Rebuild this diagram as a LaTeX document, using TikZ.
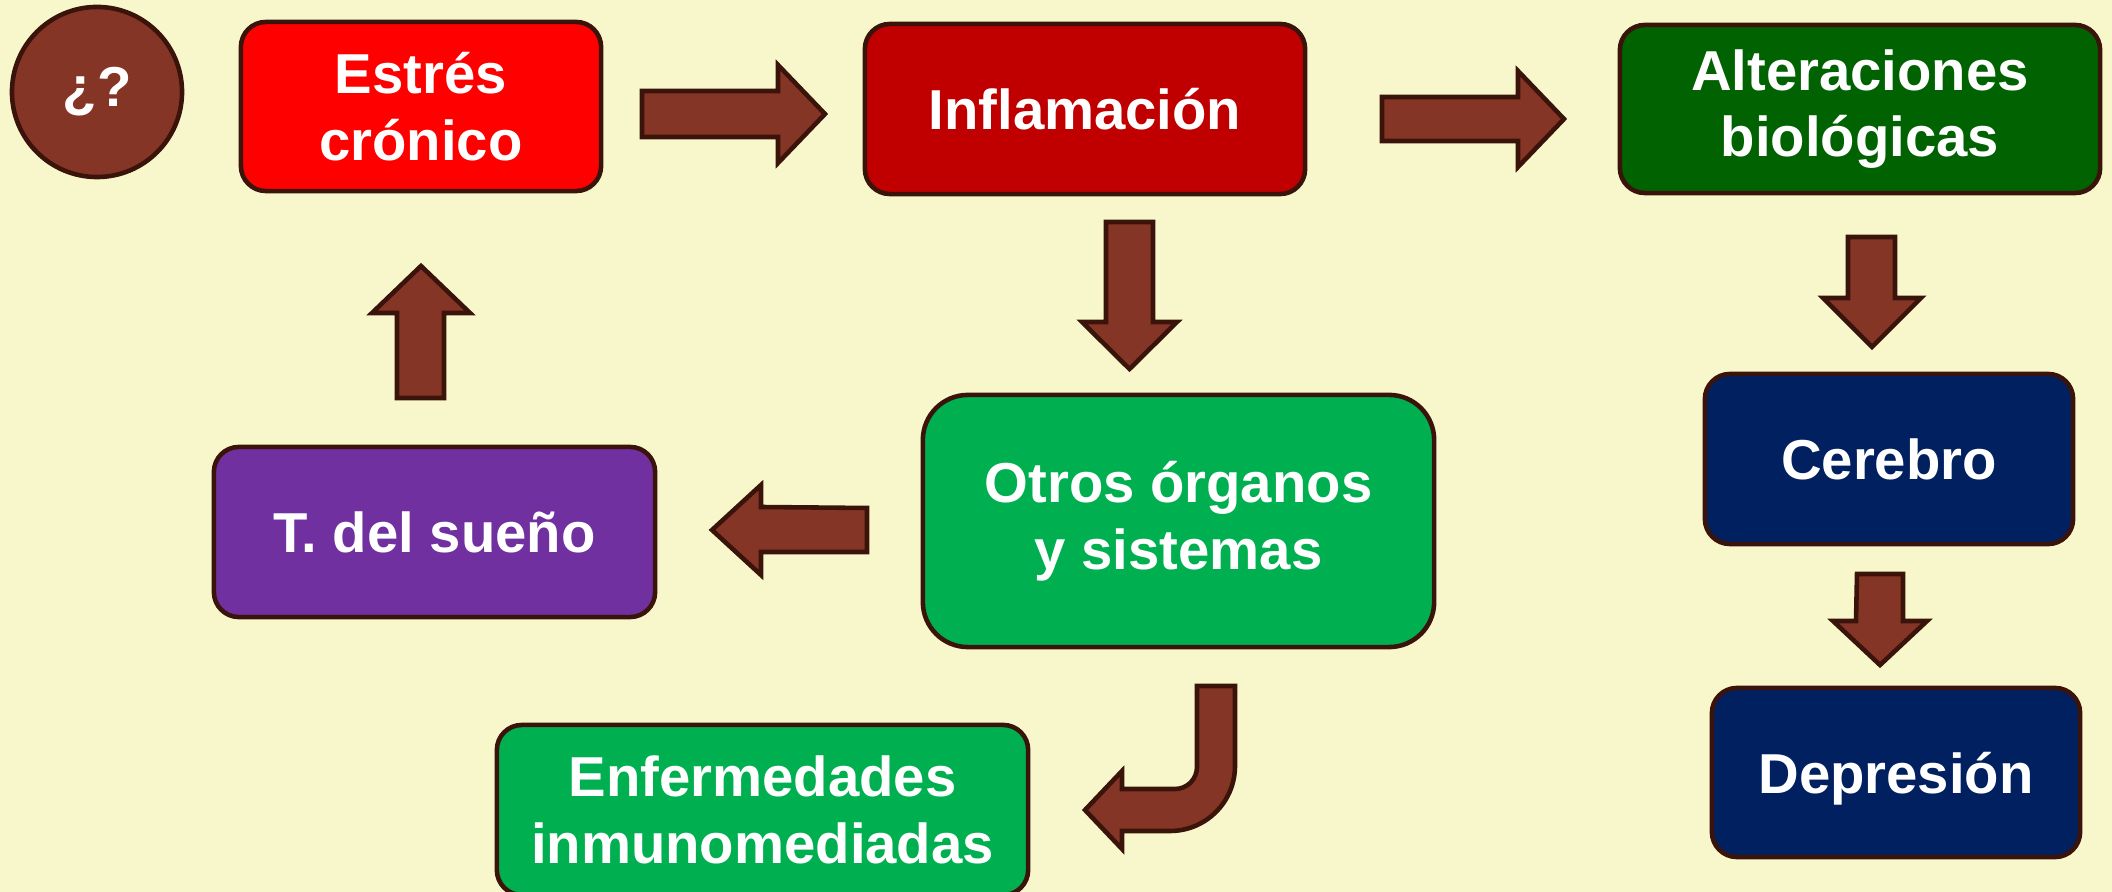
\documentclass[tikz,border=0pt]{standalone}
\usepackage{fontspec}
\setmainfont{Liberation Sans}
\definecolor{bgyellow}{RGB}{248,247,203}
\definecolor{arrbrown}{RGB}{133,53,37}
\definecolor{outbrown}{RGB}{58,20,10}
\definecolor{estresred}{RGB}{255,0,0}
\definecolor{inflred}{RGB}{192,0,0}
\definecolor{altgreen}{RGB}{0,98,0}
\definecolor{navyblue}{RGB}{0,32,96}
\definecolor{brightgreen}{RGB}{0,176,80}
\definecolor{sleeppurple}{RGB}{112,48,160}

\begin{document}
\begin{tikzpicture}[x=0.01cm,y=-0.01cm,
	box/.style={draw=outbrown,line width=1.3pt,rounded corners=0.25cm,text=white,
		align=center,font=\bfseries\fontsize{16}{19}\selectfont,inner sep=0pt},
	blockarr/.style={fill=arrbrown,draw=outbrown,line width=1.3pt,line join=miter}]
	\clip (0,0) rectangle (2112,892);
	\fill[bgyellow] (0,0) rectangle (2112,892);

	% boxes
	\node[box,circle,fill=arrbrown,minimum size=1.7cm] (duda) at (97,92) {¿?};
	\node[box,fill=estresred,minimum width=3.6cm,minimum height=1.69cm] (estres) at (421,106.5) {Estrés\\crónico};
	\node[box,fill=inflred,minimum width=4.4cm,minimum height=1.7cm] (infl) at (1085,109) {Inflamación};
	\node[box,fill=altgreen,minimum width=4.8cm,minimum height=1.68cm] (alter) at (1860,109) {Alteraciones\\biológicas};
	\node[box,fill=navyblue,minimum width=3.68cm,minimum height=1.7cm] (cerebro) at (1889,459) {Cerebro};
	\node[box,fill=navyblue,minimum width=3.68cm,minimum height=1.69cm,text depth=0pt] (depre) at (1896,772.5) {Depresión};
	\node[box,fill=brightgreen,rounded corners=0.45cm,minimum width=5.11cm,minimum height=2.52cm] (otros) at (1178.5,521) {Otros órganos\\y sistemas};
	\node[box,fill=sleeppurple,minimum width=4.41cm,minimum height=1.7cm] (sueno) at (434.5,532) {T. del sueño};
	\node[box,fill=brightgreen,minimum width=5.31cm,minimum height=1.7cm] (enferm) at (762.5,810) {Enfermedades\\inmunomediadas};

	% block arrows
	\draw[blockarr] (642,91) -- ++(136,0) -- ++(0,-26) -- ++(47,49) -- ++(-47,49) -- ++(0,-26) -- ++(-136,0) -- cycle;
	\draw[blockarr] (1382,97) -- ++(136,0) -- ++(0,-26) -- ++(46,48) -- ++(-46,48) -- ++(0,-26) -- ++(-136,0) -- cycle;
	\draw[blockarr] (1106,222) -- ++(47,0) -- ++(0,100) -- ++(24,0) -- ++(-47.5,47) -- ++(-47.5,-47) -- ++(24,0) -- cycle;
	\draw[blockarr] (1848,237) -- ++(47,0) -- ++(0,61) -- ++(26,0) -- ++(-49,49) -- ++(-49,-49) -- ++(25,0) -- cycle;
	\draw[blockarr] (1857,574) -- ++(46,0) -- ++(0,47) -- ++(24,0) -- ++(-47,44) -- ++(-47,-44) -- ++(23,0) -- cycle;
	\draw[blockarr] (867,508) -- ++(0,44) -- ++(-106,0) -- ++(0,23) -- ++(-49,-45) -- ++(49,-45) -- ++(0,22) -- cycle;
	\draw[blockarr] (397,398) -- ++(47,0) -- ++(0,-85) -- ++(26,0) -- ++(-49,-47) -- ++(-49,47) -- ++(25,0) -- cycle;
	% bent arrow
	\draw[blockarr] (1197,686) -- (1235,686) -- (1235,766) arc (0:90:65) -- (1122,831) -- (1122,849) -- (1085,810)
		-- (1122,771) -- (1122,789) -- (1175,789) arc (90:0:22) -- cycle;
\end{tikzpicture}
\end{document}
